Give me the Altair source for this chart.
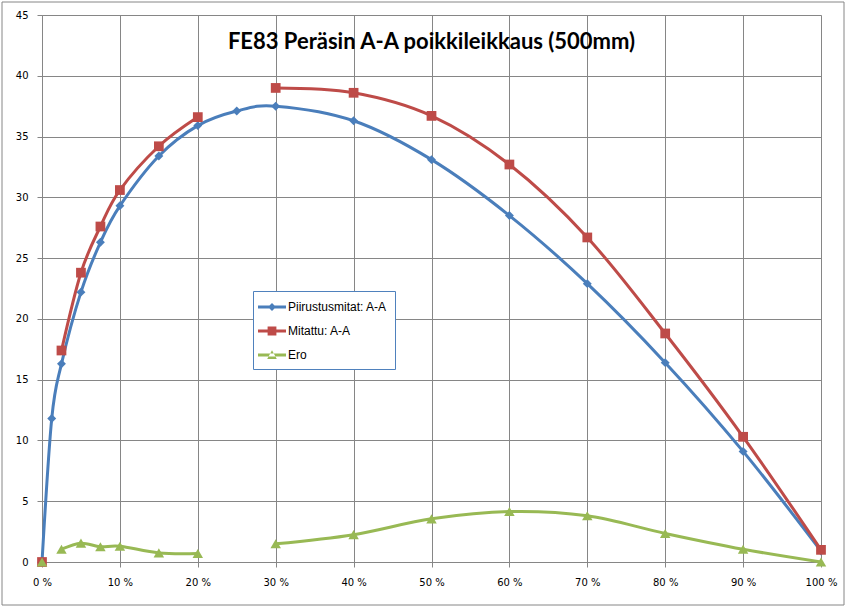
import altair as alt
import pandas as pd

# ---- data ----
pct = [0, 1.25, 2.5, 5, 7.5, 10, 15, 20, 25, 30, 40, 50, 60, 70, 80, 90, 100]
piirustusmitat = [0, 11.8, 16.3, 22.2, 26.3, 29.3, 33.4, 35.9, 37.1, 37.5, 36.3, 33.1, 28.5, 22.9, 16.4, 9.1, 0.9]
mitattu = [0, None, 17.4, 23.8, 27.6, 30.6, 34.2, 36.6, None, 39.0, 38.6, 36.7, 32.7, 26.7, 18.8, 10.3, 1.0]
ero = [0, None, 1.05, 1.55, 1.25, 1.3, 0.75, 0.7, None, 1.5, 2.25, 3.55, 4.15, 3.8, 2.35, 1.05, 0]

series_names = ["Piirustusmitat: A-A", "Mitattu: A-A", "Ero"]
series_values = [piirustusmitat, mitattu, ero]
colors = ["#4A7EBB", "#BE4B48", "#98B954"]
marker_shapes = ["diamond", "square", "triangle-up"]
marker_sizes = [80, 110, 130]
x_ticks = [0, 10, 20, 30, 40, 50, 60, 70, 80, 90, 100]
y_ticks = [0, 5, 10, 15, 20, 25, 30, 35, 40, 45]
title_text = "FE83 Peräsin A-A poikkileikkaus (500mm)"

# ---- long table with path segments (gaps break the lines) ----
rows = []
for name, vals in zip(series_names, series_values):
    seg = 0
    for xv, yv in zip(pct, vals):
        if yv is None:
            seg += 1
            continue
        rows.append({"series": name, "x": xv, "y": yv, "seg": f"{name}-{seg}"})
df = pd.DataFrame(rows)
legend_df = pd.DataFrame({"series": series_names})

GRID = "#868686"

# legend symbols: line + marker (custom paths, unit = half symbol size)
bar = "M-1.375,-0.19H2.125V0.19H-1.375Z"
legend_paths = [
    bar + " M-0.125,0L0.375,-0.5L0.875,0L0.375,0.5Z",
    bar + " M-0.175,-0.55H0.925V0.55H-0.175Z",
    bar + " M-0.225,0.5L0.975,0.5L0.375,-0.6Z",
]

x_enc = alt.X("x:Q", scale=alt.Scale(domain=[0, 100], nice=False),
              axis=alt.Axis(values=x_ticks, labelExpr="datum.value + ' %'", title=None,
                            grid=True, gridColor=GRID, domainColor=GRID, tickColor=GRID,
                            tickSize=5, labelPadding=10, labelFont="DejaVu Sans",
                            labelFontSize=10, labelColor="black", labelFlush=False,
                            labelOverlap=False))
y_enc = alt.Y("y:Q", scale=alt.Scale(domain=[0, 45], nice=False),
              axis=alt.Axis(values=y_ticks, title=None, grid=True, gridColor=GRID,
                            domainColor=GRID, tickColor=GRID, tickSize=5, labelPadding=9,
                            labelFont="DejaVu Sans", labelFontSize=10, labelColor="black",
                            labelFlush=False, labelOverlap=False))

color_scale = alt.Scale(domain=series_names, range=colors)

lines = alt.Chart(df).mark_line(interpolate="cardinal", tension=0, strokeWidth=3).encode(
    x=x_enc, y=y_enc,
    color=alt.Color("series:N", scale=color_scale, legend=None),
    detail="seg:N",
    order="x:Q",
)

points = alt.Chart(df).mark_point(filled=True, opacity=1).encode(
    x="x:Q", y="y:Q",
    color=alt.Color("series:N", scale=color_scale, legend=None),
    shape=alt.Shape("series:N", scale=alt.Scale(domain=series_names, range=marker_shapes), legend=None),
    size=alt.Size("series:N", scale=alt.Scale(domain=series_names, range=marker_sizes), legend=None),
)

leg = alt.Legend(title=None, orient="none", legendX=211, legendY=276, padding=8,
                 fillColor="white", strokeColor="#4F81BD", symbolSize=256,
                 symbolStrokeWidth=0, symbolOpacity=1, rowPadding=10, labelOffset=11,
                 labelFont="Liberation Sans", labelFontSize=12, labelColor="black")

legend_layer = alt.Chart(legend_df).mark_point(filled=True, opacity=1, clip=True).encode(
    x=alt.value(-300), y=alt.value(-300),
    color=alt.Color("series:N", scale=alt.Scale(domain=series_names, range=colors), legend=leg),
    shape=alt.Shape("series:N", scale=alt.Scale(domain=series_names, range=legend_paths), legend=leg),
)

frame = alt.Chart(alt.Data(values=[{"f": 1}])).mark_rect(filled=False, stroke=GRID, strokeWidth=1).encode(
    x=alt.value(-40), x2=alt.value(802), y=alt.value(-13), y2=alt.value(590)
)

chart = alt.layer(frame, lines, points, legend_layer).resolve_scale(
    color="independent", shape="independent", size="independent"
).properties(
    width=779, height=547,
    padding={"left": 42, "top": 15, "right": 26, "bottom": 46},
    autosize=alt.AutoSizeParams(type="none"),
    title=alt.TitleParams(title_text, font="Lato", fontSize=22, fontWeight="bold",
                          color="black", anchor="middle", baseline="alphabetic", offset=-69),
).configure_view(stroke=None).configure(background="white")

chart.save("out.html", embed_options={"renderer": "svg", "actions": False})
